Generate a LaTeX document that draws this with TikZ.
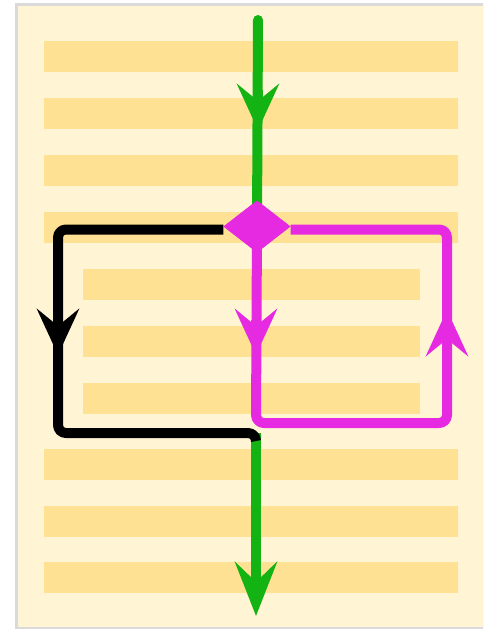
\documentclass[tikz,border=0pt]{standalone}
\usetikzlibrary{arrows.meta,shapes.geometric}
\definecolor{pagebg}{HTML}{FFF4D3}
\definecolor{pageline}{HTML}{DADADA}
\definecolor{barcol}{HTML}{FFE193}
\definecolor{flowgreen}{HTML}{12B312}
\definecolor{flowmag}{HTML}{E62AE2}
\tikzset{
  bar/.style={fill=barcol, draw=none},
  lw/.style={line width=10pt},
  flow/.style={lw, line join=round, rounded corners=8pt},
  tipA/.style={-{Stealth[length=46pt, width=42pt, inset=17pt]}},
  tipB/.style={-{Stealth[length=54pt, width=42pt, inset=20pt]}},
}
\begin{document}
\begin{tikzpicture}[x=1pt, y=-1pt]
\useasboundingbox (0,0) rectangle (483,630);
\clip (0,0) rectangle (483,630);
% page
\fill[pageline] (15,3) rectangle (500,629);
\fill[pagebg] (18,5.5) rectangle (500,627);
% full bars
\foreach \y in {41,98,155,212,449,506,562}
  \fill[bar] (44,\y) rectangle (458,\y+31);
% inner bars
\foreach \y in {269,326,383}
  \fill[bar] (83,\y) rectangle (420,\y+31);
% nodes
\node[diamond, fill=flowmag, minimum width=67pt, minimum height=52pt, inner sep=0pt] (dec) at (257,226.5) {};
\coordinate (start) at (258,20);
\coordinate (bl1) at (58,229.5);
\coordinate (bl2) at (58,433);
\coordinate (join) at (256,433);
\coordinate (joinb) at (256,441);
\coordinate (mg1) at (256,423);
\coordinate (mg2) at (447,423);
\coordinate (mg3) at (447,229.5);
\coordinate (endpt) at (256,616);
% top green
\draw[flowgreen, lw, line cap=round] (start) -- (dec.center);
\draw[flowgreen, lw, tipA] (258,90) -- (258,130);
% bottom green
\draw[flowgreen, lw, tipB] (join) -- (endpt);
% black loop
\draw[black, flow] (dec.west |- bl1) -- (bl1) -- (bl2) -- (join) -- (joinb);
\draw[black, lw, tipA] (58,320) -- (58,355);
% magenta loop
\draw[flowmag, flow] (dec.center) -- (mg1) -- (mg2) -- (mg3) -- (dec.east |- mg3);
\draw[flowmag, lw, tipA] (256,320) -- (256,355);
\draw[flowmag, lw, tipA] (447,345) -- (447,310);
% diamond on top
\node[diamond, fill=flowmag, minimum width=67pt, minimum height=52pt, inner sep=0pt] at (dec.center) {};
\end{tikzpicture}
\end{document}
